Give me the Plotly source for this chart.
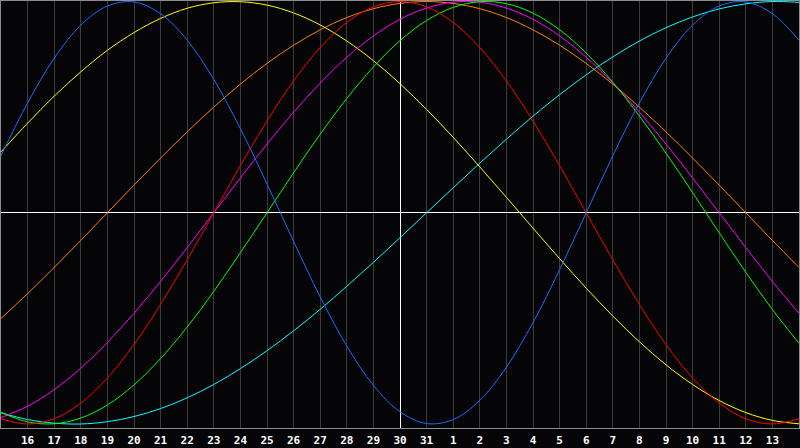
import plotly.graph_objects as go

# Day labels along the x axis (one per day shown; first/last sit on the frame edges)
days = ["15", "16", "17", "18", "19", "20", "21", "22", "23", "24", "25", "26", "27", "28",
        "29", "30", "31", "1", "2", "3", "4", "5", "6", "7", "8", "9", "10", "11", "12", "13", "14"]
today = "30"

# Daily cycle values (-1 .. 1)
physical = [0.270, 0.520, 0.731, 0.888, 0.979, 0.998, 0.942, 0.817, 0.631, 0.398, 0.136,
            -0.136, -0.398, -0.631, -0.817, -0.942, -0.998, -0.979, -0.888, -0.731, -0.520,
            -0.270, 0.000, 0.270, 0.520, 0.731, 0.888, 0.979, 0.998, 0.942, 0.817]
emotional = [-0.975, -1.000, -0.975, -0.901, -0.782, -0.624, -0.434, -0.223, 0.000, 0.223,
             0.434, 0.624, 0.782, 0.901, 0.975, 1.000, 0.975, 0.901, 0.782, 0.624, 0.434,
             0.223, 0.000, -0.223, -0.434, -0.624, -0.782, -0.901, -0.975, -1.000, -0.975]
intellectual = [-0.945, -0.990, -0.999, -0.972, -0.910, -0.815, -0.690, -0.541, -0.372, -0.189,
                0.000, 0.189, 0.372, 0.541, 0.690, 0.815, 0.910, 0.972, 0.999, 0.990, 0.945,
                0.866, 0.756, 0.618, 0.458, 0.282, 0.095, -0.095, -0.282, -0.458, -0.618]
intuitive = [-0.969, -0.916, -0.837, -0.736, -0.614, -0.476, -0.325, -0.165, 0.000, 0.165,
             0.325, 0.476, 0.614, 0.736, 0.837, 0.916, 0.969, 0.997, 0.997, 0.969, 0.916,
             0.837, 0.736, 0.614, 0.476, 0.325, 0.165, 0.000, -0.165, -0.325, -0.476]
aesthetic = [0.288, 0.424, 0.552, 0.667, 0.769, 0.853, 0.920, 0.968, 0.994, 0.999, 0.983,
             0.946, 0.889, 0.813, 0.720, 0.611, 0.489, 0.357, 0.217, 0.073, -0.073, -0.217,
             -0.357, -0.489, -0.611, -0.720, -0.813, -0.889, -0.946, -0.983, -0.999]
awareness = [-0.500, -0.383, -0.259, -0.131, 0.000, 0.131, 0.259, 0.383, 0.500, 0.609, 0.707,
             0.793, 0.866, 0.924, 0.966, 0.991, 1.000, 0.991, 0.966, 0.924, 0.866, 0.793,
             0.707, 0.609, 0.500, 0.383, 0.259, 0.131, 0.000, -0.131, -0.259]
spiritual = [-0.947, -0.979, -0.996, -1.000, -0.989, -0.965, -0.927, -0.876, -0.813, -0.738,
             -0.653, -0.559, -0.457, -0.348, -0.235, -0.118, 0.000, 0.118, 0.235, 0.348, 0.457,
             0.559, 0.653, 0.738, 0.813, 0.876, 0.927, 0.965, 0.989, 1.000, 0.996]

series = [
    ("Spiritual", spiritual, "#00ffff"),
    ("Awareness", awareness, "#ff8000"),
    ("Aesthetic", aesthetic, "#ffff00"),
    ("Intuitive", intuitive, "#ff00ff"),
    ("Intellectual", intellectual, "#00ff00"),
    ("Emotional", emotional, "#ff0000"),
    ("Physical", physical, "#1a6cff"),
]

# x = day offset relative to today, so the axis zero line marks today
today_idx = days.index(today)
x = [i - today_idx for i in range(len(days))]

fig = go.Figure()
for name, vals, color in series:
    fig.add_trace(go.Scatter(
        x=x, y=vals, mode="lines", name=name,
        line=dict(color=color, width=1, shape="spline", smoothing=1.0),
        hoverinfo="skip",
    ))

bg = "#050508"
fig.update_layout(
    width=800, height=448,
    margin=dict(l=1, r=1, t=1, b=20, pad=0),
    paper_bgcolor=bg, plot_bgcolor=bg,
    showlegend=False,
    xaxis=dict(
        range=[x[0], x[-1]],
        tickvals=x[1:-1], ticktext=days[1:-1],
        showgrid=True, gridcolor="#3c3c3c", gridwidth=1,
        zeroline=True, zerolinecolor="#ffffff", zerolinewidth=1,
        ticks="",
        showline=True, linecolor="#8c8c8c", linewidth=1, mirror=True,
        tickfont=dict(family="DejaVu Sans Mono", size=11, color="#ffffff", weight="bold"),
        ticklabelstandoff=2,
        fixedrange=True,
    ),
    yaxis=dict(
        range=[-1.019, 1.0024],
        showgrid=False, showticklabels=False, ticks="",
        zeroline=True, zerolinecolor="#ffffff", zerolinewidth=1,
        showline=True, linecolor="#8c8c8c", linewidth=1, mirror=True,
        fixedrange=True,
    ),
)

fig.write_html(
    "out.html",
    config={"displayModeBar": False, "staticPlot": True},
    post_script="document.body.style.margin='0';document.body.style.overflow='hidden';",
)
